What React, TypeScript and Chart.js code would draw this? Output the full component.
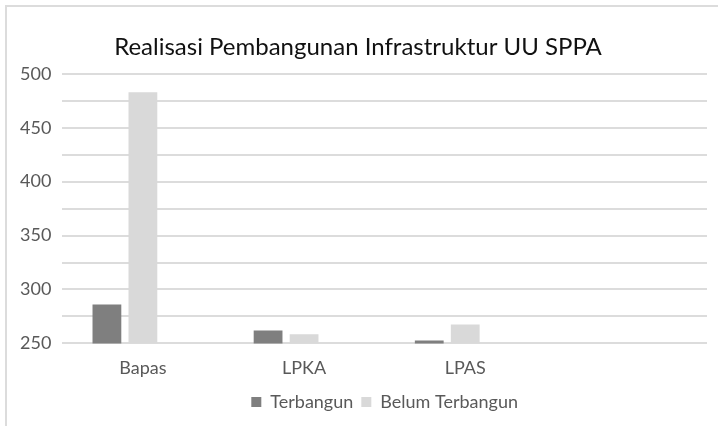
import React, { useEffect, useRef } from "react";
import { Chart, registerables } from "chart.js";

Chart.register(...registerables);

const categories = ["Bapas", "LPKA", "LPAS", ""];
const terbangun = [286, 262, 252.8, null];
const belumTerbangun = [483, 258.5, 267.5, null];
const emptySeries = [null, null, null, null];
const yMin = 250;
const yMax = 500;
const yStep = 25;
const chartTitle = "Realisasi Pembangunan Infrastruktur UU SPPA";

export default function App() {
  const ref = useRef<HTMLCanvasElement | null>(null);
  useEffect(() => {
    if (!ref.current) return;
    const font = "Lato, 'Open Sans', sans-serif";
    const chart = new Chart(ref.current, {
      type: "bar",
      data: {
        labels: categories,
        datasets: [
          { label: "Terbangun", data: terbangun, backgroundColor: "#7f7f7f" },
          { label: "Belum Terbangun", data: belumTerbangun, backgroundColor: "#d9d9d9" },
          { label: "", data: emptySeries, backgroundColor: "#a5a5a5" },
        ],
      },
      options: {
        animation: false,
        responsive: false,
        categoryPercentage: 0.67,
        barPercentage: 0.8,
        layout: { padding: { left: 9, right: 11, top: 33, bottom: 5 } },
        plugins: {
          title: {
            display: true,
            text: chartTitle,
            color: "#111111",
            font: { family: font, size: 24, weight: "normal" },
            padding: { top: 0, bottom: 12 },
          },
          legend: {
            position: "bottom",
            fullSize: false,
            labels: {
              filter: (item) => item.text !== "",
              boxWidth: 10,
              boxHeight: 10,
              color: "#595959",
              font: { family: font, size: 18 },
              padding: 8,
            },
          },
          tooltip: { enabled: false },
        },
        scales: {
          x: {
            grid: { display: false },
            border: { display: false },
            ticks: { color: "#595959", font: { family: font, size: 18 }, padding: 6 },
          },
          y: {
            min: yMin,
            max: yMax,
            border: { display: false },
            grid: { color: "#dcdcdc", lineWidth: 2, drawTicks: false },
            ticks: {
              stepSize: yStep,
              color: "#595959",
              font: { family: font, size: 18 },
              padding: 11,
              callback: (v) => (Number(v) % 50 === 0 ? String(v) : ""),
            },
          },
        },
      },
    });
    return () => chart.destroy();
  }, []);
  return (
    <div style={{ position: "absolute", left: 0, top: 0, width: 718, height: 426, background: "#fff", overflow: "hidden" }}>
      <div style={{ position: "absolute", left: 5, top: 5, right: 0, bottom: 0, borderLeft: "2px solid #dcdcdc", borderTop: "2px solid #dcdcdc" }} />
      <canvas ref={ref} width={718} height={426} style={{ position: "absolute", left: 0, top: 0 }} />
    </div>
  );
}
